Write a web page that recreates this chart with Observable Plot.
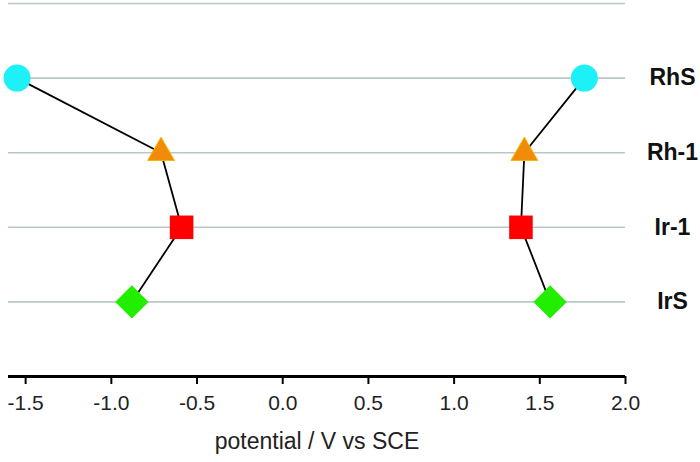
<!DOCTYPE html>
<html>
<head>
<meta charset="utf-8">
<script src="https://cdn.jsdelivr.net/npm/d3@7"></script>
<script src="https://cdn.jsdelivr.net/npm/@observablehq/plot@0.6"></script>
<style>
  html, body { margin: 0; padding: 0; background: #fff; }
  #chart svg { display: block; }
</style>
</head>
<body>
<div id="chart"></div>
<script>
// Data
const complexes = ["RhS", "Rh-1", "Ir-1", "IrS"];
const reductionPotential = [-1.55, -0.71, -0.59, -0.88];
const oxidationPotential = [1.76, 1.41, 1.39, 1.56];
const markerSymbols = ["circle", "triangle", "square", "square"];
const markerRotate = [0, 0, 0, 45];
const markerColors = ["#1ef0f8", "#f08c0a", "#ff0000", "#22ee00"];
const markerRadius = [13.5, 10, 13.3, 13.3];
const xTicks = [-1.5, -1.0, -0.5, 0.0, 0.5, 1.0, 1.5, 2.0];
const gridRows = [1, 2, 3, 4, 5];

const n = complexes.length;
const rows = complexes.map((name, i) => ({
  name,
  row: n - i,
  red: reductionPotential[i],
  ox: oxidationPotential[i]
}));

const dotMarks = [];
rows.forEach((d, i) => {
  const opts = {
    y: "row",
    symbol: markerSymbols[i],
    r: markerRadius[i],
    fill: markerColors[i],
    rotate: markerRotate[i],
    stroke: i === 1 ? "#f6b800" : "none",
    strokeWidth: 1
  };
  dotMarks.push(Plot.dot([d], {...opts, x: "red"}));
  dotMarks.push(Plot.dot([d], {...opts, x: "ox"}));
});

const chart = Plot.plot({
  width: 700,
  height: 462,
  marginLeft: 8,
  marginRight: 75,
  marginTop: 3,
  marginBottom: 86,
  style: {fontFamily: "'Liberation Sans', Arial, sans-serif", background: "#fff"},
  x: {domain: [-1.6, 2.0]},
  y: {domain: [0, 5]},
  marks: [
    Plot.ruleY(gridRows, {stroke: "#b9c7cb", strokeWidth: 1.6}),
    Plot.ruleY([0], {stroke: "#000", strokeWidth: 3}),
    Plot.axisX({
      ticks: xTicks,
      tickFormat: d => d.toFixed(1),
      tickSize: 8,
      tickPadding: 11,
      strokeWidth: 2,
      stroke: "#000",
      fill: "#222",
      fontSize: 21,
      label: null
    }),
    Plot.axisX({
      ticks: [],
      label: "potential / V vs SCE",
      labelAnchor: "center",
      labelArrow: "none",
      labelOffset: 72,
      fontSize: 23,
      fill: "#222"
    }),
    Plot.axisY({
      anchor: "right",
      ticks: rows.map(d => d.row),
      tickFormat: v => complexes[n - v],
      tickSize: 0,
      tickPadding: 47,
      textAnchor: "middle",
      fontWeight: "bold",
      fontSize: 23,
      fill: "#111",
      label: null
    }),
    Plot.line(rows, {x: "red", y: "row", stroke: "#000", strokeWidth: 1.8}),
    Plot.line(rows, {x: "ox", y: "row", stroke: "#000", strokeWidth: 1.8}),
    ...dotMarks
  ]
});
document.getElementById("chart").appendChild(chart);
</script>
</body>
</html>
